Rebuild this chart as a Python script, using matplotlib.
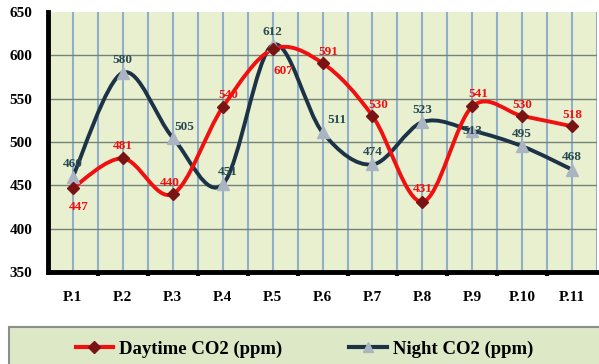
import matplotlib.pyplot as plt
from matplotlib.path import Path
from matplotlib.patches import PathPatch, Rectangle
from matplotlib.lines import Line2D

categories = ['P.1', 'P.2', 'P.3', 'P.4', 'P.5', 'P.6', 'P.7', 'P.8', 'P.9', 'P.10', 'P.11']
daytime = [447, 481, 440, 540, 607, 591, 530, 431, 541, 530, 518]
night = [460, 580, 505, 451, 612, 511, 474, 523, 513, 495, 468]

# label offsets in points (dx, dy)
day_offsets = [(4, -14), (0, 9), (-2, 8), (4, 9), (8, -16), (4, 8), (4, 8), (0, 9), (4, 9), (0, 8), (0, 8)]
night_offsets = [(0, 9), (0, 9), (8, 8), (4, 9), (0, 9), (10, 9), (0, 9), (0, 9), (0, 0), (0, 9), (0, 9)]

RED = '#f01010'
DARKRED = '#7a1414'
NAVY = '#1c3347'
GREYMK = '#aab4c2'
NAVYTXT = '#2a4a52'


def smooth_path(xs, ys):
    # Excel-like smoothed line: cubic Bezier with Catmull-Rom control points
    verts = [(xs[0], ys[0])]
    codes = [Path.MOVETO]
    n = len(xs)
    for i in range(n - 1):
        x0, y0 = (xs[i - 1], ys[i - 1]) if i > 0 else (xs[i], ys[i])
        x1, y1 = xs[i], ys[i]
        x2, y2 = xs[i + 1], ys[i + 1]
        x3, y3 = (xs[i + 2], ys[i + 2]) if i + 2 < n else (x2, y2)
        c1 = (x1 + (x2 - x0) / 6.0, y1 + (y2 - y0) / 6.0)
        c2 = (x2 - (x3 - x1) / 6.0, y2 - (y3 - y1) / 6.0)
        verts += [c1, c2, (x2, y2)]
        codes += [Path.CURVE4] * 3
    return Path(verts, codes)


fig = plt.figure(figsize=(5.99, 3.64), dpi=100)
ax = fig.add_axes([0.080, 0.253, 0.917, 0.714])
ax.set_facecolor('#e9f0cf')

x = list(range(len(categories)))

# grid
for v in [i * 0.5 - 0.5 for i in range(23)]:
    ax.axvline(v, color='#8fb0cc', lw=1.5, zorder=1)
for h in [400, 450, 500, 550, 600]:
    ax.axhline(h, color='#74827a', lw=1.0, zorder=1)

ax.add_patch(PathPatch(smooth_path(x, night), fill=False, edgecolor=NAVY, lw=2.8, zorder=3))
ax.add_patch(PathPatch(smooth_path(x, daytime), fill=False, edgecolor=RED, lw=2.8, zorder=4))
ax.plot(x, night, ls='none', marker='^', ms=8, color=GREYMK, zorder=5)
ax.plot(x, daytime, ls='none', marker='D', ms=6, color=DARKRED, zorder=6)

tf = dict(family='Liberation Serif', weight='bold', fontsize=9.5)
for i, v in enumerate(night):
    ax.annotate(str(v), (i, v), xytext=night_offsets[i], textcoords='offset points',
                ha='center', va='center', color=NAVYTXT, zorder=7, **tf)
for i, v in enumerate(daytime):
    ax.annotate(str(v), (i, v), xytext=day_offsets[i], textcoords='offset points',
                ha='center', va='center', color=RED, zorder=8, **tf)

ax.set_xlim(-0.5, 10.5)
ax.set_ylim(350, 650)
ax.set_yticks([350, 400, 450, 500, 550, 600, 650])
ax.set_xticks(x)
ax.set_xticklabels(categories)
ax.set_xticks([i + 0.5 for i in range(10)], minor=True)
ax.tick_params(axis='x', which='minor', length=3, width=3, direction='out', color='black')
ax.tick_params(axis='both', which='major', length=0, pad=14)
ax.tick_params(axis='y', pad=11)
for lab in ax.get_xticklabels() + ax.get_yticklabels():
    lab.set_family('Liberation Serif')
    lab.set_weight('bold')
    lab.set_fontsize(11)
for s in ['top', 'right']:
    ax.spines[s].set_visible(False)
for s in ['left', 'bottom']:
    ax.spines[s].set_linewidth(3.5)
    ax.spines[s].set_color('black')

# legend box
fig.patches.append(Rectangle((9 / 599, -0.05), 595 / 599, 0.05 + 37 / 364,
                             transform=fig.transFigure, facecolor='#dde9c6',
                             edgecolor='#8a8f8a', lw=1.5, zorder=0))
handles = [
    Line2D([], [], color=RED, lw=3, marker='D', ms=6, mfc=DARKRED, mec=DARKRED),
    Line2D([], [], color=NAVY, lw=3, marker='^', ms=7, mfc=GREYMK, mec=GREYMK),
]
fig.legend(handles, ['Daytime CO2 (ppm)', 'Night CO2 (ppm)'], loc='center',
           bbox_to_anchor=(0.508, 0.04), ncol=2, frameon=False, columnspacing=3.6,
           handlelength=2.0, handletextpad=0.3,
           prop=dict(family='Liberation Serif', weight='bold', size=13.5))

fig.savefig('out.png', dpi=100)
